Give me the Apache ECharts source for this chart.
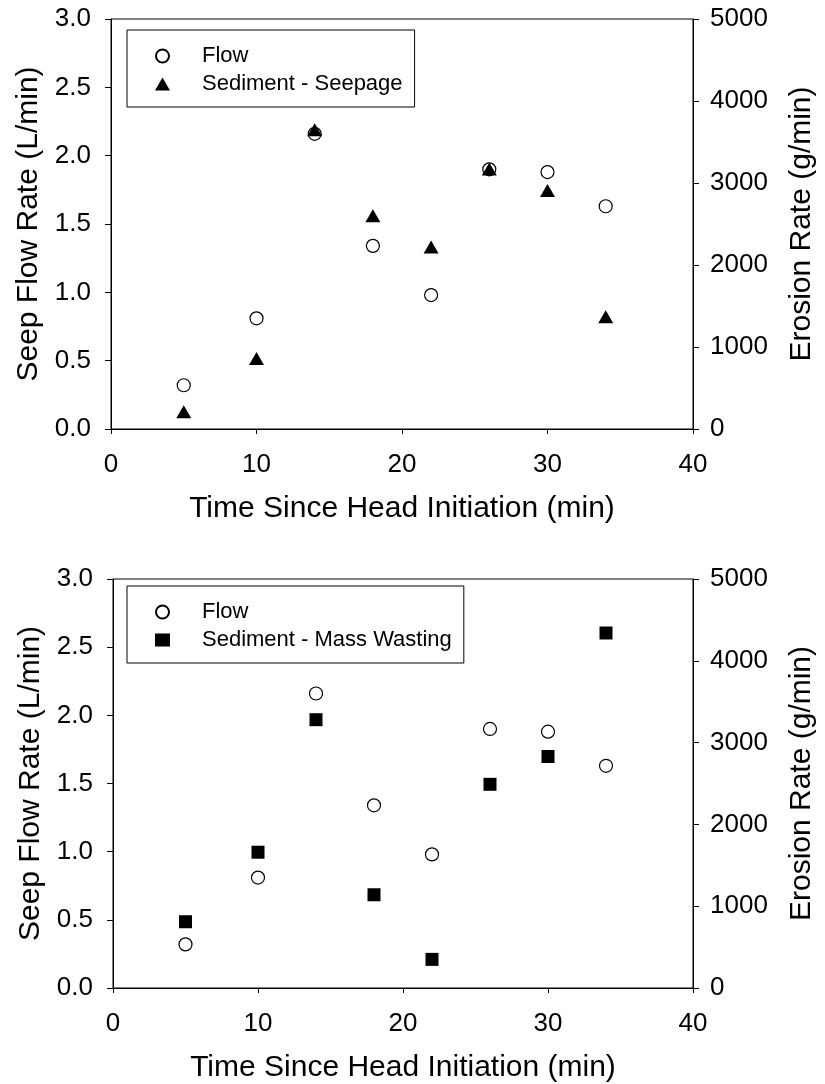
<!DOCTYPE html>
<html>
<head>
<meta charset="utf-8">
<script src="https://cdn.jsdelivr.net/npm/echarts@6/dist/echarts.min.js"></script>
<style>html,body{margin:0;padding:0;background:#fff;}#c{width:825px;height:1084px;}</style>
</head>
<body>
<div id="c"></div>
<script>
// Data
const time = [5, 10, 14, 18, 22, 26, 30, 34];
const flow = [0.32, 0.81, 2.16, 1.34, 0.98, 1.90, 1.88, 1.63];           // L/min
const seepage = [210, 860, 3650, 2600, 2220, 3170, 2910, 1370];          // g/min
const massWasting = [810, 1660, 3280, 1140, 350, 2490, 2830, 4340];      // g/min
const xTicks = [0, 10, 20, 30, 40];
const leftTicks = [0, 0.5, 1, 1.5, 2, 2.5, 3];
const rightTicks = [0, 1000, 2000, 3000, 4000, 5000];

const FONT = "'Liberation Sans', Arial, sans-serif";
const BLACK = '#000';
const TITLE_SIZE = 30;
const TICK_SIZE = 26;
const pairs = (xs, ys) => xs.map((x, i) => [x, ys[i]]);

function xAxisFor(g) {
  return {
    gridIndex: g, type: 'value', min: xTicks[0], max: xTicks[xTicks.length - 1],
    interval: xTicks[1] - xTicks[0],
    name: 'Time Since Head Initiation (min)', nameLocation: 'middle', nameGap: 65,
    nameTextStyle: { fontFamily: FONT, fontSize: TITLE_SIZE, color: BLACK },
    axisLine: { onZero: false, lineStyle: { color: BLACK, width: 1 } },
    axisTick: { length: 5, lineStyle: { color: BLACK, width: 1 } },
    axisLabel: { fontFamily: FONT, fontSize: TICK_SIZE, color: BLACK, margin: 23, formatter: v => String(v) },
    splitLine: { show: false }
  };
}
function leftAxisFor(g) {
  return {
    gridIndex: g, type: 'value', position: 'left',
    min: leftTicks[0], max: leftTicks[leftTicks.length - 1], interval: leftTicks[1] - leftTicks[0],
    name: 'Seep Flow Rate (L/min)', nameLocation: 'middle', nameGap: 65,
    nameTextStyle: { fontFamily: FONT, fontSize: TITLE_SIZE, color: BLACK },
    axisLine: { show: true, onZero: false, lineStyle: { color: BLACK, width: 1 } },
    axisTick: { show: true, length: 6, lineStyle: { color: BLACK, width: 1 } },
    axisLabel: { fontFamily: FONT, fontSize: TICK_SIZE, color: BLACK, margin: 20, formatter: v => v.toFixed(1) },
    splitLine: { show: false }
  };
}
function rightAxisFor(g) {
  return {
    gridIndex: g, type: 'value', position: 'right', alignTicks: false,
    min: rightTicks[0], max: rightTicks[rightTicks.length - 1], interval: rightTicks[1] - rightTicks[0],
    name: 'Erosion Rate (g/min)', nameLocation: 'middle', nameGap: 94,
    nameTextStyle: { fontFamily: FONT, fontSize: TITLE_SIZE, color: BLACK },
    axisLine: { show: true, onZero: false, lineStyle: { color: BLACK, width: 1 } },
    axisTick: { show: true, length: 6, lineStyle: { color: BLACK, width: 1 } },
    axisLabel: { fontFamily: FONT, fontSize: TICK_SIZE, color: BLACK, margin: 17, formatter: v => String(v) },
    splitLine: { show: false }
  };
}
function legendFor(top, names) {
  return {
    orient: 'vertical', left: 127, top: top,
    padding: [15, 12, 12, 28], itemWidth: 15, itemHeight: 13, itemGap: 6,
    borderColor: BLACK, borderWidth: 1, backgroundColor: '#fff',
    textStyle: { fontFamily: FONT, fontSize: 22, color: BLACK, padding: [0, 0, 0, 27] },
    selectedMode: false,
    data: names
  };
}

const flowStyle = { color: '#fff', borderColor: BLACK, borderWidth: 1.2, opacity: 1 };

const option = {
  backgroundColor: '#fff',
  animation: false,
  grid: [
    { left: 111, top: 19, width: 585, height: 410, show: true, borderColor: BLACK, borderWidth: 1, backgroundColor: 'transparent' },
    { left: 113, top: 579, width: 586, height: 410, show: true, borderColor: BLACK, borderWidth: 1, backgroundColor: 'transparent' }
  ],
  xAxis: [xAxisFor(0), xAxisFor(1)],
  yAxis: [leftAxisFor(0), rightAxisFor(0), leftAxisFor(1), rightAxisFor(1)],
  legend: [
    legendFor(30, ['Flow', 'Sediment - Seepage']),
    legendFor(586, ['Flow', 'Sediment - Mass Wasting'])
  ],
  series: [
    { name: 'Flow', type: 'scatter', xAxisIndex: 0, yAxisIndex: 0, symbol: 'circle', symbolSize: 13,
      itemStyle: flowStyle, data: pairs(time, flow), z: 2, silent: true },
    { name: 'Sediment - Seepage', type: 'scatter', xAxisIndex: 0, yAxisIndex: 1, symbol: 'triangle', symbolSize: [15, 13],
      itemStyle: { color: BLACK, opacity: 1 }, data: pairs(time, seepage), z: 3, silent: true },
    { name: 'Flow', type: 'scatter', xAxisIndex: 1, yAxisIndex: 2, symbol: 'circle', symbolSize: 13,
      itemStyle: flowStyle, data: pairs(time, flow), z: 2, silent: true },
    { name: 'Sediment - Mass Wasting', type: 'scatter', xAxisIndex: 1, yAxisIndex: 3, symbol: 'rect', symbolSize: 13,
      itemStyle: { color: BLACK, opacity: 1 }, data: pairs(time, massWasting), z: 3, silent: true }
  ]
};

const chart = echarts.init(document.getElementById('c'), null, { renderer: 'canvas' });
chart.setOption(option);
</script>
</body>
</html>
